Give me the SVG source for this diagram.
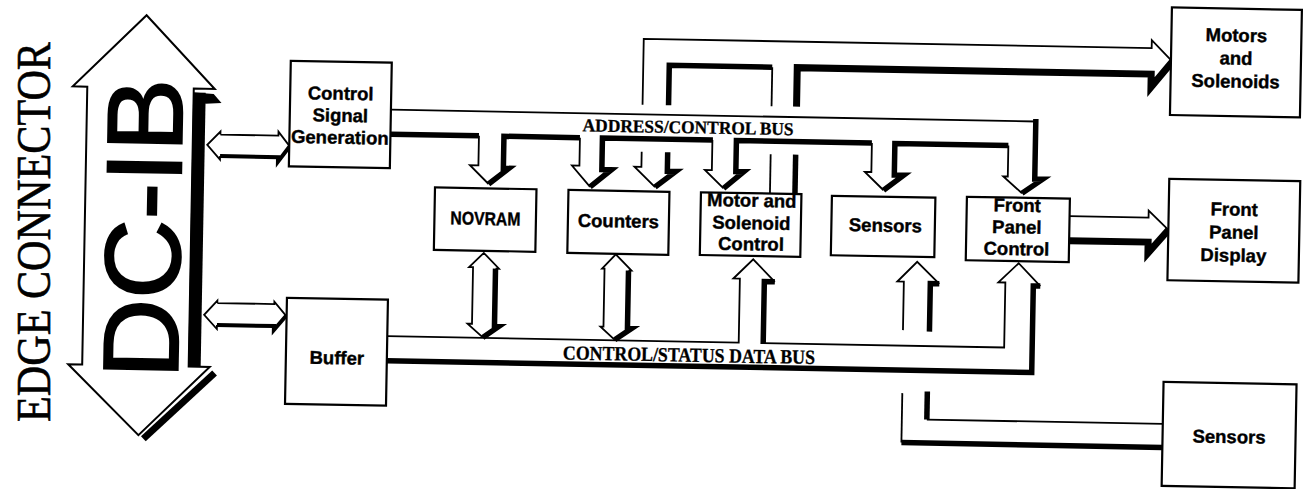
<svg xmlns="http://www.w3.org/2000/svg" width="1305" height="489" viewBox="0 0 1305 489">
<defs>
<style>
.thin{fill:none;stroke:#000;stroke-width:1.8;stroke-linejoin:miter}
.thick{fill:none;stroke:#000;stroke-width:5.5;stroke-linejoin:miter}
.thick7{fill:none;stroke:#000;stroke-width:7;stroke-linejoin:miter}
.box{fill:#fff;stroke:#000;stroke-width:2.2}
.lbl{font-family:"Liberation Sans",Arial,sans-serif;font-weight:bold;font-size:18.5px;text-anchor:middle;fill:#000;stroke:#000;stroke-width:0.4}
.bus{font-family:"Liberation Serif","Times New Roman",serif;font-weight:bold;font-size:18px;text-anchor:middle;fill:#000;stroke:#000;stroke-width:0.3}
</style>
</defs>
<rect x="0" y="0" width="1305" height="489" fill="#fff"/>
<text transform="translate(50,232) rotate(-90)" font-family="'Liberation Serif','Times New Roman',serif" font-size="48" text-anchor="middle" textLength="380" lengthAdjust="spacingAndGlyphs" stroke="#000" stroke-width="0.6">EDGE CONNECTOR</text>
<g id="diagram" transform="rotate(1.05 652 244)">
<g id="edge-connector">
<polygon points="142.5,24.5 212,97 191,97 191,375 212,375 142,444.5 70.5,375 84.5,375 84.5,97 70,97" fill="#fff" stroke="#000" stroke-width="2"/>
<rect x="190.5" y="101" width="12.5" height="274" fill="#000"/>
<polygon points="191,101 211,102 219,111 203,112" fill="#000"/>
<line x1="217" y1="381" x2="147" y2="448" stroke="#000" stroke-width="7"/>
<text transform="translate(180,237.7) rotate(-90)" font-family="'Liberation Sans',Arial,sans-serif" font-size="107" text-anchor="middle" textLength="300" lengthAdjust="spacingAndGlyphs" stroke="#000" stroke-width="2">DC-IB</text>
</g>
<g id="connectors">
<path class="thin" d="M218.5 142.5 V139.5 L205.5 153 L218.5 167.5 V164 M218.5 142.5 H276.5 V138.5 L288 153"/>
<path class="thick" style="stroke-width:4" d="M288 153 L276.5 168.5 V164 H218.5"/>
<path class="thin" d="M218.5 311 V308.5 L205.5 323 L218.5 337 V333 M218.5 311 H275.5 V308.5 L287.5 322.5"/>
<path class="thick" style="stroke-width:4" d="M287.5 322.5 L275.5 337 V333 H218.5"/>
<path class="thin" d="M389 114.5 H1033.5"/>
<path class="thick" d="M389 139 H477"/>
<path class="thin" d="M477 139 V168.5 H468.5 L487.5 187"/>
<path class="thick" d="M578 139 H502 V171 H507.5 L487.5 187"/>
<path class="thin" d="M578 139 V167 H570.5 L589 188"/>
<path class="thick" d="M711 139 H600.5 V170.5 H610 L589 188"/>
<path class="thin" d="M710.5 139 V169 H703.5 L722.5 187"/>
<path class="thick" d="M870 139 H734.5 V170 H742.5 L722.5 187"/>
<path class="thin" d="M870 139 V168 H863.5 L882.5 186"/>
<path class="thick" d="M1006.5 139 H893 V170.5 H902.5 L882.5 186"/>
<path class="thin" d="M1006.5 139 V170 H1002 L1021 186.5"/>
<path class="thick" d="M1033.5 112 V172 H1041.5 L1021 186.5"/>
<path class="thin" d="M640 152 V167 H633 L654 187"/>
<path class="thick" d="M666 152 V171 H674.5 L654 187"/>
<path class="thin" d="M640 105 V39 H1148 V31 L1169 52"/>
<path class="thick" d="M666 105 V65 H769"/>
<path class="thin" d="M769 65 V104"/>
<path class="thick7" d="M794 104 V65 H1148 V78 L1169 52"/>
<path class="thin" d="M769 152 V191"/>
<path class="thick" d="M794 152 V191"/>
<path class="thin" d="M1069 208.5 H1148 V201.5 L1168 220.5"/>
<path class="thick7" d="M1069 233 H1148 V244 L1168 220.5"/>
<path class="thin" d="M389 341 H740.5 V277 H734 L753.5 257.5 L775.5 279.5"/>
<path class="thick" d="M775.5 279.5 H765 V342"/>
<path class="thin" d="M765 341 H1006 V276 H999 L1019 256.5 L1041 279"/>
<path class="thick" d="M1041 279 H1034 V365.5 H389"/>
<path class="thin" d="M496 271.5 H499.5 L484 256 L469.5 270.5 H473.5 V327 H469 L484.5 340.5"/>
<path class="thick" d="M484.5 340.5 L500 329.5 H496 V271.5"/>
<path class="thin" d="M629 271 H632 L616 255 L602.5 269.5 H605 V327.5 H602 L616.5 340.5"/>
<path class="thick" d="M616.5 340.5 L633 329 H629 V271"/>
<path class="thin" d="M904.5 325.5 V277 H898 L917.5 257 L940 278.5"/>
<path class="thick" d="M940 278.5 H931 V326.5"/>
<path class="thin" d="M905 388.5 V438"/>
<path class="thick" d="M905 438 H1166"/>
<path class="thick" d="M930 386.5 V414.5"/>
<path class="thin" d="M930 414.5 H1166"/>
<text class="bus" x="686" y="132.6" textLength="211" lengthAdjust="spacingAndGlyphs">ADDRESS/CONTROL BUS</text>
<text class="bus" x="691" y="361" style="font-size:20px" textLength="252" lengthAdjust="spacingAndGlyphs">CONTROL/STATUS DATA BUS</text>
</g>
<g id="control-signal-generation">
<rect class="box" x="287.5" y="67.5" width="101" height="105.5"/>
<text class="lbl" x="338" y="105.5">Control</text>
<text class="lbl" x="338" y="127.5">Signal</text>
<text class="lbl" x="338" y="149.5">Generation</text>
</g>
<g id="buffer">
<rect class="box" x="288" y="304.5" width="101" height="106"/>
<text class="lbl" x="339" y="370">Buffer</text>
</g>
<g id="novram">
<rect class="box" x="434" y="191.4" width="101.5" height="62.5"/>
<text class="lbl" x="485" y="228" textLength="70" lengthAdjust="spacingAndGlyphs">NOVRAM</text>
</g>
<g id="counters">
<rect class="box" x="567.5" y="191.5" width="101" height="63"/>
<text class="lbl" x="618" y="228">Counters</text>
</g>
<g id="motor-solenoid-control">
<rect class="box" x="700" y="191.4" width="100.5" height="62.7"/>
<text class="lbl" x="751" y="205">Motor and</text>
<text class="lbl" x="751" y="227.5">Solenoid</text>
<text class="lbl" x="751" y="248.5">Control</text>
</g>
<g id="sensors">
<rect class="box" x="831" y="192.5" width="103.5" height="59.5"/>
<text class="lbl" x="885" y="227.5">Sensors</text>
</g>
<g id="front-panel-control">
<rect class="box" x="966" y="191" width="103" height="63.5"/>
<text class="lbl" x="1016.5" y="205">Front</text>
<text class="lbl" x="1016.5" y="226.7">Panel</text>
<text class="lbl" x="1016.5" y="248.4">Control</text>
</g>
<g id="motors-solenoids">
<rect class="box" x="1167.5" y="-2" width="130" height="107.5"/>
<text class="lbl" x="1232.5" y="31">Motors</text>
<text class="lbl" x="1232.5" y="54">and</text>
<text class="lbl" x="1232.5" y="77">Solenoids</text>
</g>
<g id="front-panel-display">
<rect class="box" x="1168" y="169.3" width="131" height="101.5"/>
<text class="lbl" x="1233.5" y="205">Front</text>
<text class="lbl" x="1233.5" y="228">Panel</text>
<text class="lbl" x="1233.5" y="251">Display</text>
</g>
<g id="sensors-external">
<rect class="box" x="1166" y="372.5" width="133" height="104"/>
<text class="lbl" x="1232.5" y="432.5">Sensors</text>
</g>
</g>
</svg>
